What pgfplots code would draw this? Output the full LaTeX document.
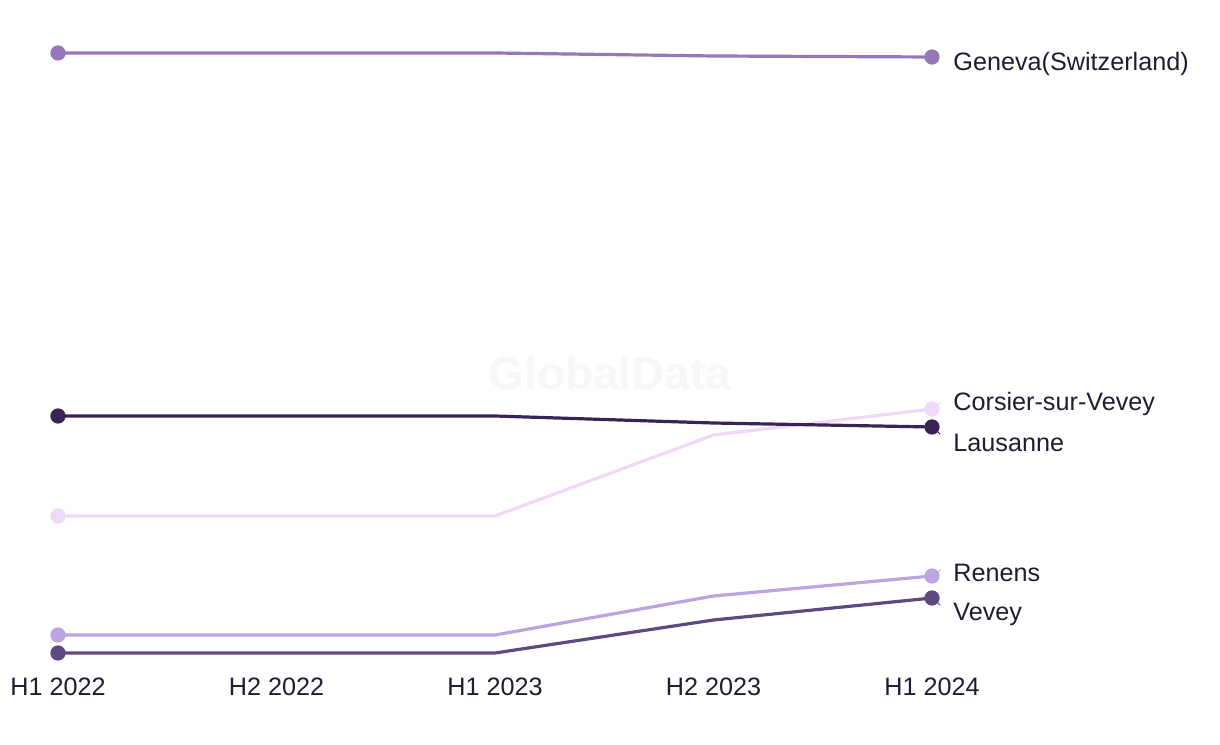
\documentclass[border=0pt]{standalone}
\usepackage{pgfplots}
\pgfplotsset{compat=1.18}
\usepackage{fontspec}
\setmainfont{Liberation Sans}
\definecolor{cGen}{HTML}{9678B6}
\definecolor{cLau}{HTML}{3A2456}
\definecolor{cCor}{HTML}{F0D8F8}
\definecolor{cRen}{HTML}{BDA3E0}
\definecolor{cVev}{HTML}{5E4A80}
\definecolor{txt}{HTML}{1F1D33}
\begin{document}
\begin{tikzpicture}[x=0.5pt,y=0.5pt]
\path[use as bounding box] (0,0) rectangle (1220,744);
\node[font=\bfseries\fontsize{23}{26}\selectfont, text=black!3] at (610,371) {GlobalData};
\begin{axis}[
  at={(29pt,45.5pt)}, anchor=origin,
  scale only axis, width=437pt, height=300pt,
  xmin=0, xmax=4, ymin=0, ymax=600,
  enlargelimits=false, clip=false,
  axis line style={draw=none},
  ytick=\empty,
  xtick={0,1,2,3,4},
  xticklabels={H1 2022,H2 2022,H1 2023,H2 2023,H1 2024},
  major tick length=0pt,
  xticklabel style={font=\fontsize{12.6}{14}\selectfont, text=txt, yshift=-9pt},
  every axis plot/.append style={line width=1.6pt, mark=*, mark size=3pt, mark indices={1,5}},
]
\addplot[cGen, mark options={fill=cGen}] coordinates {(0,600) (1,600) (2,600) (3,597) (4,596)};
\addplot[cCor, mark options={fill=cCor}] coordinates {(0,137) (1,137) (2,137) (3,218) (4,244)};
\addplot[cLau, mark options={fill=cLau}] coordinates {(0,237) (1,237) (2,237) (3,230) (4,226)};
\addplot[cRen, mark options={fill=cRen}] coordinates {(0,18) (1,18) (2,18) (3,57) (4,77)};
\addplot[cVev, mark options={fill=cVev}] coordinates {(0,0) (1,0) (2,0) (3,33) (4,55)};
\begin{scope}[every node/.style={anchor=west, font=\fontsize{12.6}{14}\selectfont, text=txt, inner sep=0pt}]
\node at (axis cs:4,596) [xshift=10.5pt, yshift=-3.5pt] {Geneva(Switzerland)};
\node at (axis cs:4,244) [xshift=10.5pt, yshift=2.5pt] {Corsier-sur-Vevey};
\node at (axis cs:4,226) [xshift=10.5pt, yshift=-8pt] {Lausanne};
\node at (axis cs:4,77) [xshift=10.5pt, yshift=1.5pt] {Renens};
\node at (axis cs:4,55) [xshift=10.5pt, yshift=-8pt] {Vevey};
\end{scope}
\draw[cCor, line width=0.4pt, dashed] (axis cs:4,244) ++(2pt,1.5pt) -- ++(3pt,2pt);
\draw[cLau, line width=0.4pt, densely dashed] (axis cs:4,226) ++(2pt,-1.5pt) -- ++(3pt,-3pt);
\draw[cRen, line width=0.4pt, dashed] (axis cs:4,77) ++(2pt,1.5pt) -- ++(3pt,2pt);
\draw[cVev, line width=0.4pt, densely dashed] (axis cs:4,55) ++(2pt,-1.5pt) -- ++(3pt,-3pt);
\end{axis}
\end{tikzpicture}
\end{document}
